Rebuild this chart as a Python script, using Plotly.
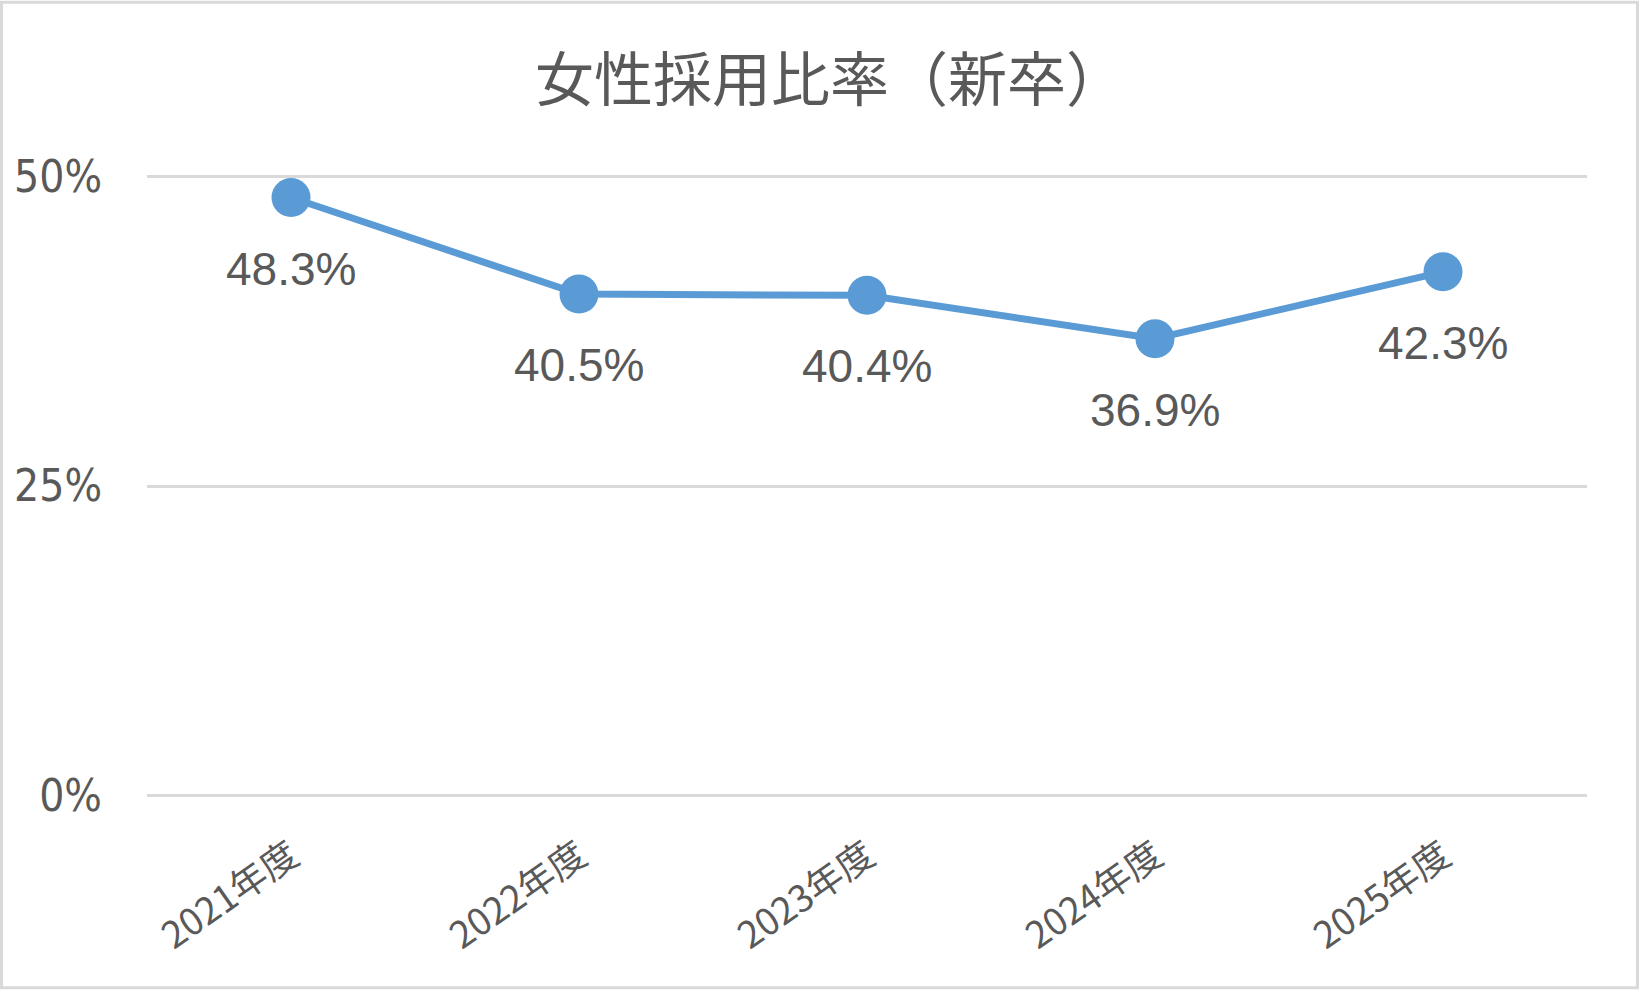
import plotly.graph_objects as go

# ---- data ----
categories = ["2021年度", "2022年度", "2023年度", "2024年度", "2025年度"]
ratios = [0.483, 0.405, 0.404, 0.369, 0.423]
y_tick_values = [0, 0.25, 0.5]
y_tick_labels = ["0%", "25%", "50%"]
title_text = "女性採用比率（新卒）"

# ---- style ----
W, H = 1639, 990
Y0, Y1 = 0.0, 0.5
PAD = 0.002                      # tiny range padding so edge gridlines are drawn
GRID_TOP, GRID_BOT = 176, 796    # pixel rows of the 50% and 0% gridlines
PX_PER_UNIT = (GRID_BOT - GRID_TOP) / (Y1 - Y0)
d = PAD * PX_PER_UNIT
ML, MR = 147, 52
MT, MB = GRID_TOP - d, H - GRID_BOT - d
PW, PH = W - ML - MR, H - MT - MB
TEXT = "#595959"
LINE = "#5B9BD5"
GRID = "#D9D9D9"
CJK = "Noto Sans CJK JP"

fig = go.Figure()
fig.add_trace(go.Scatter(
    x=categories, y=ratios, mode="lines+markers",
    line=dict(color=LINE, width=7),
    marker=dict(color=LINE, size=39, line=dict(width=0)),
    hoverinfo="skip", showlegend=False,
))

annotations = []
for c, v in zip(categories, ratios):
    annotations.append(dict(
        x=c, y=v, xref="x", yref="y", text=f"{v*100:.1f}%",
        showarrow=False, yshift=-71, yanchor="middle", xanchor="center",
        font=dict(family="Liberation Sans, Arial, sans-serif", size=46, color=TEXT),
    ))

# figure border
bw = 3
shapes = [dict(
    type="rect", xref="paper", yref="paper",
    x0=(bw / 2 - ML) / PW, x1=(W - bw / 2 - ML) / PW,
    y0=(H - MB - (H - bw / 2)) / PH, y1=(H - MB - bw / 2) / PH,
    line=dict(color=GRID, width=bw), fillcolor="rgba(0,0,0,0)", layer="below",
)]

fig.update_layout(
    width=W, height=H,
    margin=dict(l=ML, r=MR, t=MT, b=MB, pad=0),
    paper_bgcolor="white", plot_bgcolor="white",
    title=dict(text=title_text, x=830 / W, xanchor="center", xref="container",
               y=1 - 80 / H, yanchor="middle", yref="container",
               font=dict(family=CJK, size=59, color=TEXT)),
    xaxis=dict(
        type="category", range=[-0.5, len(categories) - 0.5],
        showgrid=False, showline=False, zeroline=False, ticks="",
        tickangle=-35, ticklabelstandoff=28,
        tickfont=dict(family=f"{CJK}, sans-serif", size=37, color=TEXT),
    ),
    yaxis=dict(
        range=[Y0 - PAD, Y1 + PAD], tickvals=y_tick_values, ticktext=y_tick_labels,
        showgrid=True, gridcolor=GRID, gridwidth=2.5,
        zeroline=False, showline=False, ticks="", ticklabelstandoff=44,
        tickfont=dict(family="DejaVu Sans Condensed, Liberation Sans Narrow, sans-serif",
                      size=44, color=TEXT),
    ),
    annotations=annotations,
    shapes=shapes,
    font=dict(family=CJK, color=TEXT),
)

fig.write_html("out.html", config={"displayModeBar": False},
               post_script="document.body.style.margin='0';")
